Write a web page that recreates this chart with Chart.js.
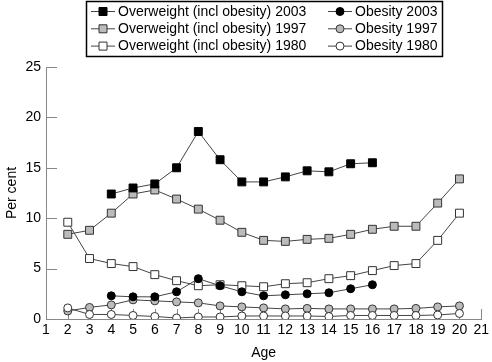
<!DOCTYPE html>
<html>
<head>
<meta charset="utf-8">
<script src="https://cdn.jsdelivr.net/npm/chart.js@4.4.0/dist/chart.umd.min.js"></script>
<style>
  html, body { margin: 0; padding: 0; background: #fff; }
</style>
</head>
<body>
<canvas id="chart" width="492" height="362"></canvas>
<script>
const FONT = '"Liberation Sans", Arial, sans-serif';

// Age on the x axis
const ages = [2, 3, 4, 5, 6, 7, 8, 9, 10, 11, 12, 13, 14, 15, 16, 17, 18, 19, 20];
const ages2003 = [4, 5, 6, 7, 8, 9, 10, 11, 12, 13, 14, 15, 16];

// Per cent
const overweight2003 = [12.4, 13.0, 13.4, 15.0, 18.6, 15.8, 13.6, 13.6, 14.1, 14.7, 14.6, 15.4, 15.5];
const obesity2003 = [2.3, 2.2, 2.2, 2.7, 4.0, 3.3, 2.7, 2.3, 2.4, 2.5, 2.6, 3.0, 3.4];
const overweight1997 = [8.4, 8.8, 10.5, 12.4, 12.8, 11.9, 10.9, 9.8, 8.6, 7.8, 7.7, 7.9, 8.0, 8.4, 8.9, 9.2, 9.2, 11.5, 13.9];
const obesity1997 = [0.8, 1.15, 1.4, 1.9, 1.8, 1.7, 1.6, 1.3, 1.2, 1.1, 1.0, 1.05, 1.0, 1.0, 1.0, 1.0, 1.05, 1.2, 1.3];
const overweight1980 = [9.6, 6.0, 5.5, 5.2, 4.4, 3.8, 3.3, 3.4, 3.3, 3.2, 3.5, 3.6, 4.0, 4.3, 4.8, 5.3, 5.5, 7.8, 10.5];
const obesity1980 = [1.1, 0.45, 0.45, 0.35, 0.25, 0.1, 0.2, 0.2, 0.3, 0.3, 0.3, 0.3, 0.25, 0.35, 0.35, 0.35, 0.35, 0.4, 0.55];

const xTicks = { min: 1, max: 21, step: 1 };
const yTicks = { min: 0, max: 25, step: 5 };

const toPoints = (xs, ys) => xs.map((x, i) => ({ x: x, y: ys[i] }));

const series = (label, xs, ys, style, fill, order) => ({
  label: label,
  data: toPoints(xs, ys),
  order: order,
  borderColor: '#444',
  borderWidth: 1,
  pointStyle: style,
  pointRadius: style === 'rect' ? 5.6 : 4,
  pointBackgroundColor: fill,
  pointBorderColor: fill === '#000' ? '#000' : '#333',
  pointBorderWidth: 1,
});

// Tick marks point into the plot, so they are drawn here before the data.
const innerTicks = {
  id: 'innerTicks',
  beforeDatasetsDraw(chart) {
    const ctx = chart.ctx;
    const area = chart.chartArea;
    ctx.save();
    ctx.strokeStyle = '#888';
    ctx.lineWidth = 1;
    ctx.beginPath();
    chart.scales.x.ticks.forEach((t) => {
      const px = Math.round(chart.scales.x.getPixelForValue(t.value)) + 0.5;
      ctx.moveTo(px, area.bottom);
      ctx.lineTo(px, area.bottom - 10);
    });
    chart.scales.y.ticks.forEach((t) => {
      const py = Math.round(chart.scales.y.getPixelForValue(t.value)) + 0.5;
      ctx.moveTo(area.left, py);
      ctx.lineTo(area.left + 11, py);
    });
    ctx.stroke();
    ctx.restore();
  },
};

// Legend is a boxed 2 column grid, drawn on the canvas.
const legendBox = {
  id: 'legendBox',
  afterDraw(chart) {
    const ctx = chart.ctx;
    ctx.save();
    ctx.strokeStyle = '#000';
    ctx.lineWidth = 1.5;
    ctx.strokeRect(86.5, 1.5, 356, 55);
    ctx.font = '14px ' + FONT;
    ctx.textBaseline = 'middle';
    chart.data.datasets.forEach((ds, i) => {
      const col = i % 2;
      const row = Math.floor(i / 2);
      const y = 11.5 + row * 17.3;
      const x0 = col ? 328 : 91;
      const mx = col ? 340 : 103;
      ctx.strokeStyle = ds.borderColor;
      ctx.lineWidth = 1;
      ctx.beginPath();
      ctx.moveTo(x0, y);
      ctx.lineTo(x0 + 24, y);
      ctx.stroke();
      ctx.fillStyle = ds.pointBackgroundColor;
      ctx.strokeStyle = ds.pointBorderColor;
      ctx.beginPath();
      if (ds.pointStyle === 'rect') {
        ctx.rect(mx - 4, y - 4, 8, 8);
      } else {
        ctx.arc(mx, y, 4, 0, Math.PI * 2);
      }
      ctx.fill();
      ctx.stroke();
      ctx.fillStyle = '#000';
      ctx.fillText(ds.label, col ? 355 : 118, y + 0.5);
    });
    ctx.restore();
  },
};

new Chart(document.getElementById('chart'), {
  type: 'line',
  data: {
    datasets: [
      series('Overweight (incl obesity) 2003', ages2003, overweight2003, 'rect', '#000', 0),
      series('Obesity 2003', ages2003, obesity2003, 'circle', '#000', 1),
      series('Overweight (incl obesity) 1997', ages, overweight1997, 'rect', '#bbb', 4),
      series('Obesity 1997', ages, obesity1997, 'circle', '#bbb', 3),
      series('Overweight (incl obesity) 1980', ages, overweight1980, 'rect', '#fff', 5),
      series('Obesity 1980', ages, obesity1980, 'circle', '#fff', 2),
    ],
  },
  options: {
    responsive: false,
    animation: false,
    layout: { padding: { top: 67, right: 9, left: 0, bottom: 0 } },
    plugins: { legend: { display: false }, tooltip: { enabled: false } },
    scales: {
      x: {
        type: 'linear',
        min: xTicks.min,
        max: xTicks.max,
        afterFit: (s) => { s.height = 43; },
        ticks: { stepSize: xTicks.step, color: '#000', font: { family: FONT, size: 14 }, padding: 3, maxRotation: 0 },
        grid: { drawOnChartArea: false, drawTicks: false },
        border: { color: '#888', width: 1 },
        title: { display: true, text: 'Age', color: '#000', font: { family: FONT, size: 14 }, padding: { top: 0, bottom: 0 } },
      },
      y: {
        min: yTicks.min,
        max: yTicks.max,
        afterFit: (s) => { s.width = 46; },
        ticks: { stepSize: yTicks.step, color: '#000', font: { family: FONT, size: 14 }, padding: 5 },
        grid: { drawOnChartArea: false, drawTicks: false },
        border: { color: '#888', width: 1 },
        title: { display: true, text: 'Per cent', color: '#000', font: { family: FONT, size: 14 }, padding: { top: 4, bottom: 0 } },
      },
    },
  },
  plugins: [innerTicks, legendBox],
});
</script>
</body>
</html>
